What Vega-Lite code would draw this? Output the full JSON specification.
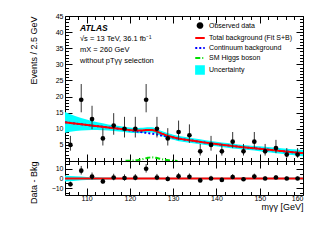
{
 "$schema": "https://vega.github.io/schema/vega-lite/v6.json",
 "padding": {"left": 28, "top": 11, "right": 0, "bottom": 0},
 "background": "white",
 "spacing": 0,
 "bounds": "flush",
 "config": {
  "view": {"stroke": "black", "strokeWidth": 1},
  "axis": {"domain": false, "grid": false, "tickColor": "black", "tickWidth": 1, "labelFont": "Liberation Sans", "labelFontSize": 7, "labelColor": "black", "labelPadding": 9, "titleFont": "Liberation Sans", "titleFontSize": 9, "titleFontWeight": "normal", "titleColor": "black"},
  "legend": {"labelFont": "Liberation Sans", "labelFontSize": 7, "labelColor": "black", "symbolSize": 90, "rowPadding": 0, "labelOffset": 3, "symbolStrokeWidth": 2, "symbolOpacity": 1, "padding": 0}
 },
 "datasets": {
  "pts": [
   {"m": 106.25, "n": 5, "lo": 3.21, "hi": 7.79, "res": -6, "rlo": -7.79, "rhi": -3.21},
   {"m": 108.75, "n": 19, "lo": 15.11, "hi": 23.89, "res": 8, "rlo": 4.11, "rhi": 12.89},
   {"m": 111.25, "n": 13, "lo": 9.86, "hi": 17.14, "res": 2, "rlo": -1.14, "rhi": 6.14},
   {"m": 113.75, "n": 7, "lo": 4.81, "hi": 10.19, "res": -3, "rlo": -5.19, "rhi": 0.19},
   {"m": 116.25, "n": 11, "lo": 8.15, "hi": 14.85, "res": 1, "rlo": -1.85, "rhi": 4.85},
   {"m": 118.75, "n": 10, "lo": 7.3, "hi": 13.7, "res": 0.5, "rlo": -2.2, "rhi": 4.2},
   {"m": 121.25, "n": 10, "lo": 7.3, "hi": 13.7, "res": 0.8, "rlo": -1.9, "rhi": 4.5},
   {"m": 123.75, "n": 19, "lo": 15.11, "hi": 23.89, "res": 10, "rlo": 6.11, "rhi": 14.89},
   {"m": 126.25, "n": 10, "lo": 7.3, "hi": 13.7, "res": 1, "rlo": -1.7, "rhi": 4.7},
   {"m": 128.75, "n": 7, "lo": 4.81, "hi": 10.19, "res": -0.5, "rlo": -2.69, "rhi": 2.69},
   {"m": 131.25, "n": 9, "lo": 6.46, "hi": 12.54, "res": 2.2, "rlo": -0.34, "rhi": 5.74},
   {"m": 133.75, "n": 8, "lo": 5.63, "hi": 11.37, "res": 1.8, "rlo": -0.57, "rhi": 5.17},
   {"m": 136.25, "n": 3, "lo": 1.7, "hi": 5.3, "res": -2, "rlo": -3.3, "rhi": 0.3},
   {"m": 138.75, "n": 5, "lo": 3.21, "hi": 7.79, "res": 0, "rlo": -1.79, "rhi": 2.79},
   {"m": 141.25, "n": 3, "lo": 1.7, "hi": 5.3, "res": -1.5, "rlo": -2.8, "rhi": 0.8},
   {"m": 143.75, "n": 6, "lo": 4, "hi": 9, "res": 1.5, "rlo": -0.5, "rhi": 4.5},
   {"m": 146.25, "n": 3, "lo": 1.7, "hi": 5.3, "res": -0.8, "rlo": -2.1, "rhi": 1.5},
   {"m": 148.75, "n": 6, "lo": 4, "hi": 9, "res": 2, "rlo": 0, "rhi": 5},
   {"m": 151.25, "n": 3, "lo": 1.7, "hi": 5.3, "res": 0, "rlo": -1.3, "rhi": 2.3},
   {"m": 153.75, "n": 4, "lo": 2.44, "hi": 6.56, "res": 1, "rlo": -0.56, "rhi": 3.56},
   {"m": 156.25, "n": 2, "lo": 1, "hi": 4, "res": 0, "rlo": -1, "rhi": 2},
   {"m": 158.75, "n": 2, "lo": 1, "hi": 4, "res": 0, "rlo": -1, "rhi": 2}
  ],
  "curves": [
   {"m": 105, "cont": 12.0, "tot": 12.0, "lo": 8.8, "hi": 15.2, "dlo": -3.2, "dhi": 3.2},
   {"m": 107.5, "cont": 11.6, "tot": 11.6, "lo": 9.3, "hi": 13.9, "dlo": -2.3, "dhi": 2.3},
   {"m": 110, "cont": 11.2, "tot": 11.2, "lo": 9.55, "hi": 12.85, "dlo": -1.65, "dhi": 1.65},
   {"m": 112.5, "cont": 10.8, "tot": 10.8, "lo": 9.6, "hi": 12.0, "dlo": -1.2, "dhi": 1.2},
   {"m": 115, "cont": 10.4, "tot": 10.4, "lo": 9.45, "hi": 11.35, "dlo": -0.95, "dhi": 0.95},
   {"m": 117.5, "cont": 10.0, "tot": 10.0, "lo": 9.15, "hi": 10.85, "dlo": -0.85, "dhi": 0.85},
   {"m": 119, "cont": 9.7, "higgs": 0.04, "tot": 9.74, "lo": 8.94, "hi": 10.54, "dlo": -0.8, "dhi": 0.8},
   {"m": 120, "cont": 9.5, "higgs": 0.1, "tot": 9.6, "lo": 8.8, "hi": 10.4, "dlo": -0.8, "dhi": 0.8},
   {"m": 121, "cont": 9.3, "higgs": 0.2, "tot": 9.5, "lo": 8.7, "hi": 10.3, "dlo": -0.8, "dhi": 0.8},
   {"m": 122, "cont": 9.1, "higgs": 0.35, "tot": 9.45, "lo": 8.65, "hi": 10.25, "dlo": -0.8, "dhi": 0.8},
   {"m": 123, "cont": 8.9, "higgs": 0.6, "tot": 9.5, "lo": 8.7, "hi": 10.3, "dlo": -0.8, "dhi": 0.8},
   {"m": 124, "cont": 8.7, "higgs": 0.95, "tot": 9.65, "lo": 8.85, "hi": 10.45, "dlo": -0.8, "dhi": 0.8},
   {"m": 125, "cont": 8.5, "higgs": 1.15, "tot": 9.65, "lo": 8.85, "hi": 10.45, "dlo": -0.8, "dhi": 0.8},
   {"m": 126, "cont": 8.3, "higgs": 1.0, "tot": 9.3, "lo": 8.5, "hi": 10.1, "dlo": -0.8, "dhi": 0.8},
   {"m": 127, "cont": 8.0, "higgs": 0.7, "tot": 8.7, "lo": 7.9, "hi": 9.5, "dlo": -0.8, "dhi": 0.8},
   {"m": 128, "cont": 7.8, "higgs": 0.4, "tot": 8.2, "lo": 7.4, "hi": 9.0, "dlo": -0.8, "dhi": 0.8},
   {"m": 129, "cont": 7.5, "higgs": 0.2, "tot": 7.7, "lo": 6.9, "hi": 8.5, "dlo": -0.8, "dhi": 0.8},
   {"m": 130, "cont": 7.3, "higgs": 0.08, "tot": 7.38, "lo": 6.58, "hi": 8.18, "dlo": -0.8, "dhi": 0.8},
   {"m": 131, "cont": 7.0, "higgs": 0.03, "tot": 7.03, "lo": 6.23, "hi": 7.83, "dlo": -0.8, "dhi": 0.8},
   {"m": 132.5, "cont": 6.7, "tot": 6.7, "lo": 5.9, "hi": 7.5, "dlo": -0.8, "dhi": 0.8},
   {"m": 135, "cont": 6.2, "tot": 6.2, "lo": 5.45, "hi": 6.95, "dlo": -0.75, "dhi": 0.75},
   {"m": 137.5, "cont": 5.7, "tot": 5.7, "lo": 4.95, "hi": 6.45, "dlo": -0.75, "dhi": 0.75},
   {"m": 140, "cont": 5.25, "tot": 5.25, "lo": 4.55, "hi": 5.95, "dlo": -0.7, "dhi": 0.7},
   {"m": 142.5, "cont": 4.85, "tot": 4.85, "lo": 4.15, "hi": 5.55, "dlo": -0.7, "dhi": 0.7},
   {"m": 145, "cont": 4.45, "tot": 4.45, "lo": 3.75, "hi": 5.15, "dlo": -0.7, "dhi": 0.7},
   {"m": 147.5, "cont": 4.1, "tot": 4.1, "lo": 3.4, "hi": 4.8, "dlo": -0.7, "dhi": 0.7},
   {"m": 150, "cont": 3.8, "tot": 3.8, "lo": 3.05, "hi": 4.55, "dlo": -0.75, "dhi": 0.75},
   {"m": 152.5, "cont": 3.45, "tot": 3.45, "lo": 2.65, "hi": 4.25, "dlo": -0.8, "dhi": 0.8},
   {"m": 155, "cont": 3.1, "tot": 3.1, "lo": 2.25, "hi": 3.95, "dlo": -0.85, "dhi": 0.85},
   {"m": 157.5, "cont": 2.75, "tot": 2.75, "lo": 1.85, "hi": 3.65, "dlo": -0.9, "dhi": 0.9},
   {"m": 160, "cont": 2.45, "tot": 2.45, "lo": 1.45, "hi": 3.45, "dlo": -1.0, "dhi": 1.0}
  ]
 },
 "resolve": {"scale": {"x": "independent", "y": "independent", "color": "independent", "shape": "independent", "strokeDash": "independent", "size": "independent"}, "legend": {"color": "independent", "shape": "independent", "strokeDash": "independent", "size": "independent"}},
 "vconcat": [
  {
   "width": 238,
   "height": 145,
   "title": {"text": "ATLAS", "subtitle": ["√s = 13 TeV, 36.1 fb⁻¹", "mX = 260 GeV", "without pTγγ selection"], "anchor": "start", "frame": "group", "offset": -53, "dx": 15, "font": "Liberation Sans", "fontSize": 8.5, "fontStyle": "italic", "fontWeight": "bold", "color": "black", "subtitleFont": "Liberation Sans", "subtitleFontSize": 7.5, "subtitleColor": "black", "subtitleLineHeight": 11.3, "subtitlePadding": 2},
   "layer": [
    {
     "data": {"name": "curves"},
     "mark": {"type": "area", "interpolate": "monotone", "opacity": 1},
     "encoding": {
      "x": {"field": "m", "type": "quantitative", "scale": {"domain": [105, 160], "nice": false, "zero": false}, "axis": {"orient": "bottom", "values": [106,108,110,112,114,116,118,120,122,124,126,128,130,132,134,136,138,140,142,144,146,148,150,152,154,156,158,160], "labels": false, "tickSize": {"condition": {"test": "datum.value % 10 === 0", "value": -7}, "value": -3.5}, "title": null}},
      "y": {"field": "lo", "type": "quantitative", "scale": {"domain": [0, 45], "nice": false, "zero": false}, "axis": {"orient": "left", "values": [0,1,2,3,4,5,6,7,8,9,10,11,12,13,14,15,16,17,18,19,20,21,22,23,24,25,26,27,28,29,30,31,32,33,34,35,36,37,38,39,40,41,42,43,44,45], "labelExpr": "datum.value % 5 === 0 && datum.value > 0 ? datum.label : ''", "tickSize": {"condition": {"test": "datum.value % 5 === 0", "value": -7}, "value": -3.5}, "title": "Events / 2.5 GeV", "titleAnchor": "end", "titleX": -27}},
      "y2": {"field": "hi"},
      "color": {"datum": "unc", "scale": {"domain": ["data", "tot", "cont", "higgs", "unc"], "range": ["#000000", "#ff0000", "#0000ff", "#00dd00", "#00ffff"]}, "legend": {"title": null, "orient": "none", "legendX": 129, "legendY": 6, "labelExpr": "datum.label === 'data' ? 'Observed data' : datum.label === 'tot' ? 'Total background (Fit S+B)' : datum.label === 'cont' ? 'Continuum background' : datum.label === 'higgs' ? 'SM Higgs boson' : 'Uncertainty'"}}
     }
    },
    {
     "data": {"name": "curves"},
     "transform": [{"fold": ["cont", "higgs", "tot"], "as": ["series", "v"]}, {"filter": "isValid(datum.v)"}],
     "mark": {"type": "line", "strokeWidth": 2, "interpolate": "monotone"},
     "encoding": {
      "x": {"field": "m", "type": "quantitative", "axis": null},
      "y": {"field": "v", "type": "quantitative", "axis": null},
      "color": {"field": "series", "type": "nominal", "scale": {"domain": ["data", "tot", "cont", "higgs", "unc"], "range": ["#000000", "#ff0000", "#0000ff", "#00dd00", "#00ffff"]}, "legend": {"title": null, "orient": "none", "legendX": 129, "legendY": 6, "labelExpr": "datum.label === 'data' ? 'Observed data' : datum.label === 'tot' ? 'Total background (Fit S+B)' : datum.label === 'cont' ? 'Continuum background' : datum.label === 'higgs' ? 'SM Higgs boson' : 'Uncertainty'"}},
      "strokeDash": {"field": "series", "type": "nominal", "scale": {"domain": ["data", "tot", "cont", "higgs", "unc"], "range": [[1, 0], [1, 0], [2, 2], [5, 2, 1, 2], [1, 0]]}, "legend": {"title": null, "orient": "none", "legendX": 129, "legendY": 6, "labelExpr": "datum.label === 'data' ? 'Observed data' : datum.label === 'tot' ? 'Total background (Fit S+B)' : datum.label === 'cont' ? 'Continuum background' : datum.label === 'higgs' ? 'SM Higgs boson' : 'Uncertainty'"}}
     }
    },
    {
     "data": {"name": "pts"},
     "mark": {"type": "rule", "color": "#333333", "strokeWidth": 1},
     "encoding": {
      "x": {"field": "m", "type": "quantitative", "axis": {"orient": "top", "values": [106,108,110,112,114,116,118,120,122,124,126,128,130,132,134,136,138,140,142,144,146,148,150,152,154,156,158,160], "labels": false, "tickSize": {"condition": {"test": "datum.value % 10 === 0", "value": -7}, "value": -3.5}, "title": null}},
      "y": {"field": "lo", "type": "quantitative", "axis": {"orient": "right", "values": [0,1,2,3,4,5,6,7,8,9,10,11,12,13,14,15,16,17,18,19,20,21,22,23,24,25,26,27,28,29,30,31,32,33,34,35,36,37,38,39,40,41,42,43,44,45], "labels": false, "tickSize": {"condition": {"test": "datum.value % 5 === 0", "value": -7}, "value": -3.5}, "title": null}},
      "y2": {"field": "hi"}
     }
    },
    {
     "data": {"name": "pts"},
     "mark": {"type": "point", "filled": true, "opacity": 1},
     "encoding": {
      "x": {"field": "m", "type": "quantitative", "axis": null},
      "y": {"field": "n", "type": "quantitative", "axis": null},
      "color": {"datum": "data", "scale": {"domain": ["data", "tot", "cont", "higgs", "unc"], "range": ["#000000", "#ff0000", "#0000ff", "#00dd00", "#00ffff"]}, "legend": {"title": null, "orient": "none", "legendX": 129, "legendY": 6, "labelExpr": "datum.label === 'data' ? 'Observed data' : datum.label === 'tot' ? 'Total background (Fit S+B)' : datum.label === 'cont' ? 'Continuum background' : datum.label === 'higgs' ? 'SM Higgs boson' : 'Uncertainty'"}},
      "shape": {"datum": "data", "scale": {"domain": ["data", "tot", "cont", "higgs", "unc"], "range": ["circle", "stroke", "stroke", "stroke", "square"]}, "legend": {"title": null, "orient": "none", "legendX": 129, "legendY": 6, "labelExpr": "datum.label === 'data' ? 'Observed data' : datum.label === 'tot' ? 'Total background (Fit S+B)' : datum.label === 'cont' ? 'Continuum background' : datum.label === 'higgs' ? 'SM Higgs boson' : 'Uncertainty'"}},
      "size": {"datum": "data", "type": "nominal", "scale": {"type": "ordinal", "domain": ["data", "tot", "cont", "higgs", "unc"], "range": [22, 90, 90, 90, 60]}, "legend": {"title": null, "orient": "none", "legendX": 129, "legendY": 6, "labelExpr": "datum.label === 'data' ? 'Observed data' : datum.label === 'tot' ? 'Total background (Fit S+B)' : datum.label === 'cont' ? 'Continuum background' : datum.label === 'higgs' ? 'SM Higgs boson' : 'Uncertainty'"}}
     }
    }
   ],
   "resolve": {"axis": {"x": "independent", "y": "independent"}}
  },
  {
   "width": 238,
   "height": 34,
   "layer": [
    {
     "data": {"name": "curves"},
     "mark": {"type": "area", "interpolate": "monotone", "color": "#00ffff", "opacity": 1},
     "encoding": {
      "x": {"field": "m", "type": "quantitative", "scale": {"domain": [105, 160], "nice": false, "zero": false}, "axis": {"orient": "bottom", "values": [106,108,110,112,114,116,118,120,122,124,126,128,130,132,134,136,138,140,142,144,146,148,150,152,154,156,158,160], "labelExpr": "datum.value % 10 === 0 ? datum.label : ''", "labelPadding": 6, "tickSize": {"condition": {"test": "datum.value % 10 === 0", "value": -7}, "value": -3.5}, "title": "mγγ [GeV]", "titleAnchor": "end", "titlePadding": 1}},
      "y": {"field": "dlo", "type": "quantitative", "scale": {"domain": [-17, 18], "nice": false, "zero": false}, "axis": {"orient": "left", "values": [-15, -10, -5, 0, 5, 10, 15], "labelExpr": "datum.value % 10 === 0 ? datum.label : ''", "tickSize": {"condition": {"test": "datum.value % 10 === 0", "value": -7}, "value": -3.5}, "title": "Data - Bkg", "titleAnchor": "end", "titleX": -27}},
      "y2": {"field": "dhi"}
     }
    },
    {
     "data": {"name": "curves"},
     "mark": {"type": "line", "color": "#ff0000", "strokeWidth": 2},
     "encoding": {
      "x": {"field": "m", "type": "quantitative", "axis": null},
      "y": {"datum": 0, "axis": null}
     }
    },
    {
     "data": {"name": "pts"},
     "mark": {"type": "rule", "color": "#333333", "strokeWidth": 1},
     "encoding": {
      "x": {"field": "m", "type": "quantitative", "axis": {"orient": "top", "values": [106,108,110,112,114,116,118,120,122,124,126,128,130,132,134,136,138,140,142,144,146,148,150,152,154,156,158,160], "labels": false, "tickSize": {"condition": {"test": "datum.value % 10 === 0", "value": -7}, "value": -3.5}, "title": null}},
      "y": {"field": "rlo", "type": "quantitative", "axis": {"orient": "right", "values": [-15, -10, -5, 0, 5, 10, 15], "labels": false, "tickSize": {"condition": {"test": "datum.value % 10 === 0", "value": -7}, "value": -3.5}, "title": null}},
      "y2": {"field": "rhi"}
     }
    },
    {
     "data": {"name": "pts"},
     "mark": {"type": "point", "filled": true, "size": 22, "opacity": 1, "color": "#000000"},
     "encoding": {
      "x": {"field": "m", "type": "quantitative", "axis": null},
      "y": {"field": "res", "type": "quantitative", "axis": null}
     }
    }
   ],
   "resolve": {"axis": {"x": "independent", "y": "independent"}}
  }
 ]
}
